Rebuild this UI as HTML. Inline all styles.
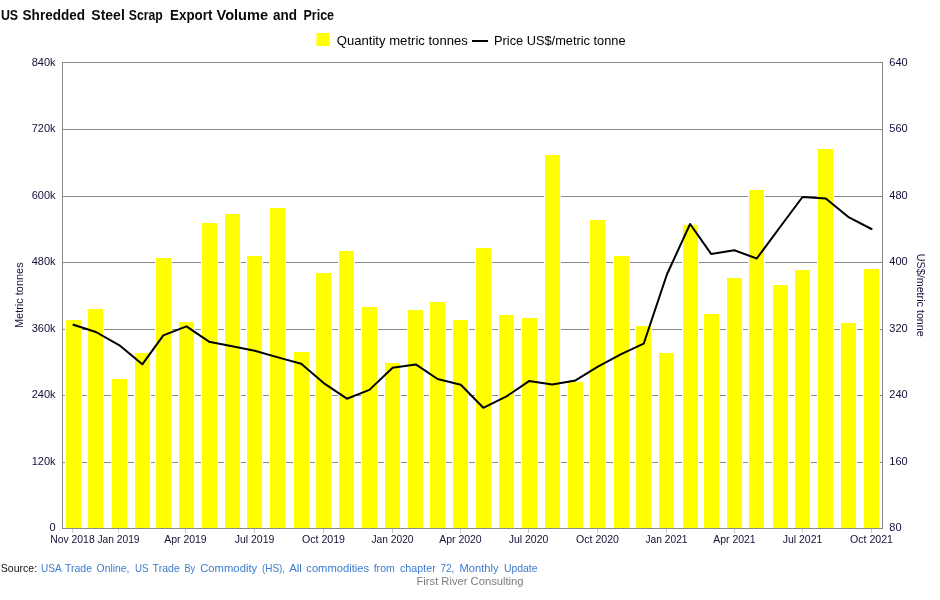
<!DOCTYPE html>
<html lang="en"><head><meta charset="utf-8"><title>US Shredded Steel Scrap Export Volume and Price</title>
<style>html,body{margin:0;padding:0;background:#fff;overflow:hidden}svg{display:block}text{font-family:"Liberation Sans",sans-serif}</style></head><body>
<svg width="940" height="600" viewBox="0 0 940 600">
<rect width="940" height="600" fill="#fff"/>
<g shape-rendering="crispEdges" fill="#8a8a8a">
<rect x="62" y="62" width="821" height="1"/>
<rect x="62" y="129" width="821" height="1"/>
<rect x="62" y="196" width="821" height="1"/>
<rect x="62" y="262" width="821" height="1"/>
<rect x="62" y="329" width="821" height="1"/>
<rect x="62" y="395" width="821" height="1"/>
<rect x="62" y="462" width="821" height="1"/>
</g>
<g shape-rendering="crispEdges" fill="#ffff00" stroke="#fff" stroke-width="1">
<rect x="65.5" y="319.5" width="16" height="209"/>
<rect x="87.5" y="308.5" width="16" height="220"/>
<rect x="111.5" y="378.5" width="16" height="150"/>
<rect x="134.5" y="352.5" width="16" height="176"/>
<rect x="155.5" y="257.5" width="16" height="271"/>
<rect x="178.5" y="321.5" width="16" height="207"/>
<rect x="201.5" y="222.5" width="16" height="306"/>
<rect x="224.5" y="213.5" width="16" height="315"/>
<rect x="246.5" y="255.5" width="16" height="273"/>
<rect x="269.5" y="207.5" width="16" height="321"/>
<rect x="293.5" y="351.5" width="16" height="177"/>
<rect x="315.5" y="272.5" width="16" height="256"/>
<rect x="338.5" y="250.5" width="16" height="278"/>
<rect x="361.5" y="306.5" width="16" height="222"/>
<rect x="384.5" y="362.5" width="16" height="166"/>
<rect x="407.5" y="309.5" width="16" height="219"/>
<rect x="429.5" y="301.5" width="16" height="227"/>
<rect x="452.5" y="319.5" width="16" height="209"/>
<rect x="475.5" y="247.5" width="16" height="281"/>
<rect x="498.5" y="314.5" width="16" height="214"/>
<rect x="521.5" y="317.5" width="16" height="211"/>
<rect x="544.5" y="154.5" width="16" height="374"/>
<rect x="567.5" y="381.5" width="16" height="147"/>
<rect x="589.5" y="219.5" width="16" height="309"/>
<rect x="613.5" y="255.5" width="16" height="273"/>
<rect x="635.5" y="325.5" width="16" height="203"/>
<rect x="658.5" y="352.5" width="16" height="176"/>
<rect x="682.5" y="224.5" width="16" height="304"/>
<rect x="703.5" y="313.5" width="16" height="215"/>
<rect x="726.5" y="277.5" width="16" height="251"/>
<rect x="748.5" y="189.5" width="16" height="339"/>
<rect x="772.5" y="284.5" width="16" height="244"/>
<rect x="794.5" y="269.5" width="16" height="259"/>
<rect x="817.5" y="148.5" width="16" height="380"/>
<rect x="840.5" y="322.5" width="16" height="206"/>
<rect x="863.5" y="268.5" width="16" height="260"/>
</g>
<g shape-rendering="crispEdges" fill="#8a8a8a">
<rect x="62" y="62" width="1" height="467"/>
<rect x="882" y="62" width="1" height="467"/>
<rect x="62" y="528" width="821" height="1"/>
</g>
<g fill="#c8c8c8" shape-rendering="crispEdges">
<rect x="72" y="529" width="1" height="4"/>
<rect x="118" y="529" width="1" height="4"/>
<rect x="185" y="529" width="1" height="4"/>
<rect x="254" y="529" width="1" height="4"/>
<rect x="323" y="529" width="1" height="4"/>
<rect x="392" y="529" width="1" height="4"/>
<rect x="460" y="529" width="1" height="4"/>
<rect x="528" y="529" width="1" height="4"/>
<rect x="597" y="529" width="1" height="4"/>
<rect x="666" y="529" width="1" height="4"/>
<rect x="734" y="529" width="1" height="4"/>
<rect x="802" y="529" width="1" height="4"/>
<rect x="871" y="529" width="1" height="4"/>
</g>
<polyline points="73.4,324.7 95.9,332.0 119.1,345.1 142.3,364.3 163.3,335.4 186.5,326.4 209.0,341.7 232.2,346.3 254.7,350.7 278.0,357.4 301.2,363.8 323.7,383.1 346.9,398.7 369.4,389.9 392.6,367.8 415.8,364.4 437.6,379.0 460.8,384.8 483.3,407.8 506.5,396.4 529.0,381.1 552.2,384.5 575.5,380.4 597.9,366.6 621.2,354.2 643.7,343.7 666.9,274.5 690.1,224.0 711.1,253.9 734.3,250.3 756.8,258.5 780.1,227.0 802.5,197.0 825.8,198.4 849.0,217.4 871.5,229.0" fill="none" stroke="#000" stroke-width="2" stroke-linejoin="round" stroke-linecap="round"/>
<text x="0.9" y="20" font-size="14.7" fill="#0a0a0a" font-weight="bold" textLength="17.2" lengthAdjust="spacingAndGlyphs">US</text>
<text x="22.6" y="20" font-size="14.7" fill="#0a0a0a" font-weight="bold" textLength="62.4" lengthAdjust="spacingAndGlyphs">Shredded</text>
<text x="91.3" y="20" font-size="14.7" fill="#0a0a0a" font-weight="bold" textLength="33.5" lengthAdjust="spacingAndGlyphs">Steel</text>
<text x="128.8" y="20" font-size="14.7" fill="#0a0a0a" font-weight="bold" textLength="34.0" lengthAdjust="spacingAndGlyphs">Scrap</text>
<text x="170.1" y="20" font-size="14.7" fill="#0a0a0a" font-weight="bold" textLength="42.3" lengthAdjust="spacingAndGlyphs">Export</text>
<text x="216.5" y="20" font-size="14.7" fill="#0a0a0a" font-weight="bold" textLength="51.6" lengthAdjust="spacingAndGlyphs">Volume</text>
<text x="273" y="20" font-size="14.7" fill="#0a0a0a" font-weight="bold" textLength="24.0" lengthAdjust="spacingAndGlyphs">and</text>
<text x="303.4" y="20" font-size="14.7" fill="#0a0a0a" font-weight="bold" textLength="30.7" lengthAdjust="spacingAndGlyphs">Price</text>
<rect x="316.5" y="33" width="13" height="13" fill="#ffff00"/>
<text x="336.8" y="44.5" font-size="13" fill="#000" textLength="131" lengthAdjust="spacingAndGlyphs">Quantity metric tonnes</text>
<rect x="472" y="40" width="16" height="2" fill="#000" shape-rendering="crispEdges"/>
<text x="494" y="44.5" font-size="13" fill="#000" textLength="131.6" lengthAdjust="spacingAndGlyphs">Price US$/metric tonne</text>
<text x="55.6" y="66" font-size="11" fill="#101038" text-anchor="end">840k</text>
<text x="55.6" y="132" font-size="11" fill="#101038" text-anchor="end">720k</text>
<text x="55.6" y="199" font-size="11" fill="#101038" text-anchor="end">600k</text>
<text x="55.6" y="265" font-size="11" fill="#101038" text-anchor="end">480k</text>
<text x="55.6" y="332" font-size="11" fill="#101038" text-anchor="end">360k</text>
<text x="55.6" y="398" font-size="11" fill="#101038" text-anchor="end">240k</text>
<text x="55.6" y="465" font-size="11" fill="#101038" text-anchor="end">120k</text>
<text x="55.6" y="531" font-size="11" fill="#101038" text-anchor="end">0</text>
<text x="889.3" y="66" font-size="11" fill="#101038">640</text>
<text x="889.3" y="132" font-size="11" fill="#101038">560</text>
<text x="889.3" y="199" font-size="11" fill="#101038">480</text>
<text x="889.3" y="265" font-size="11" fill="#101038">400</text>
<text x="889.3" y="332" font-size="11" fill="#101038">320</text>
<text x="889.3" y="398" font-size="11" fill="#101038">240</text>
<text x="889.3" y="465" font-size="11" fill="#101038">160</text>
<text x="889.3" y="531" font-size="11" fill="#101038">80</text>
<text x="50.2" y="542.5" font-size="11" fill="#101038" textLength="44.5" lengthAdjust="spacingAndGlyphs">Nov 2018</text>
<text x="97.5" y="542.5" font-size="11" fill="#101038" textLength="42" lengthAdjust="spacingAndGlyphs">Jan 2019</text>
<text x="164.2" y="542.5" font-size="11" fill="#101038" textLength="42.5" lengthAdjust="spacingAndGlyphs">Apr 2019</text>
<text x="234.7" y="542.5" font-size="11" fill="#101038" textLength="39.6" lengthAdjust="spacingAndGlyphs">Jul 2019</text>
<text x="302.0" y="542.5" font-size="11" fill="#101038" textLength="43" lengthAdjust="spacingAndGlyphs">Oct 2019</text>
<text x="371.5" y="542.5" font-size="11" fill="#101038" textLength="42" lengthAdjust="spacingAndGlyphs">Jan 2020</text>
<text x="439.2" y="542.5" font-size="11" fill="#101038" textLength="42.5" lengthAdjust="spacingAndGlyphs">Apr 2020</text>
<text x="508.7" y="542.5" font-size="11" fill="#101038" textLength="39.6" lengthAdjust="spacingAndGlyphs">Jul 2020</text>
<text x="576.0" y="542.5" font-size="11" fill="#101038" textLength="43" lengthAdjust="spacingAndGlyphs">Oct 2020</text>
<text x="645.5" y="542.5" font-size="11" fill="#101038" textLength="42" lengthAdjust="spacingAndGlyphs">Jan 2021</text>
<text x="713.2" y="542.5" font-size="11" fill="#101038" textLength="42.5" lengthAdjust="spacingAndGlyphs">Apr 2021</text>
<text x="782.7" y="542.5" font-size="11" fill="#101038" textLength="39.6" lengthAdjust="spacingAndGlyphs">Jul 2021</text>
<text x="850.0" y="542.5" font-size="11" fill="#101038" textLength="43" lengthAdjust="spacingAndGlyphs">Oct 2021</text>
<text transform="translate(23.3,328) rotate(-90)" font-size="11" fill="#101038" textLength="65.6" lengthAdjust="spacingAndGlyphs">Metric tonnes</text>
<text transform="translate(916.8,253.8) rotate(90)" font-size="11" fill="#101038" textLength="83" lengthAdjust="spacingAndGlyphs">US$/metric tonne</text>
<text x="0.7" y="571.5" font-size="11" fill="#111" textLength="36.5" lengthAdjust="spacingAndGlyphs">Source:</text>
<text x="41" y="571.5" font-size="11.5" fill="#3b7bd0" textLength="20.7" lengthAdjust="spacingAndGlyphs">USA</text>
<text x="65.1" y="571.5" font-size="11.5" fill="#3b7bd0" textLength="26.9" lengthAdjust="spacingAndGlyphs">Trade</text>
<text x="96.6" y="571.5" font-size="11.5" fill="#3b7bd0" textLength="32.8" lengthAdjust="spacingAndGlyphs">Online,</text>
<text x="135" y="571.5" font-size="11.5" fill="#3b7bd0" textLength="13.6" lengthAdjust="spacingAndGlyphs">US</text>
<text x="152.6" y="571.5" font-size="11.5" fill="#3b7bd0" textLength="27.3" lengthAdjust="spacingAndGlyphs">Trade</text>
<text x="184.4" y="571.5" font-size="11.5" fill="#3b7bd0" textLength="10.8" lengthAdjust="spacingAndGlyphs">By</text>
<text x="200.2" y="571.5" font-size="11.5" fill="#3b7bd0" textLength="57.0" lengthAdjust="spacingAndGlyphs">Commodity</text>
<text x="261.9" y="571.5" font-size="11.5" fill="#3b7bd0" textLength="23.2" lengthAdjust="spacingAndGlyphs">(HS),</text>
<text x="289.2" y="571.5" font-size="11.5" fill="#3b7bd0" textLength="12.7" lengthAdjust="spacingAndGlyphs">All</text>
<text x="306.3" y="571.5" font-size="11.5" fill="#3b7bd0" textLength="62.8" lengthAdjust="spacingAndGlyphs">commodities</text>
<text x="373.7" y="571.5" font-size="11.5" fill="#3b7bd0" textLength="21.1" lengthAdjust="spacingAndGlyphs">from</text>
<text x="400" y="571.5" font-size="11.5" fill="#3b7bd0" textLength="35.8" lengthAdjust="spacingAndGlyphs">chapter</text>
<text x="440.5" y="571.5" font-size="11.5" fill="#3b7bd0" textLength="13.9" lengthAdjust="spacingAndGlyphs">72,</text>
<text x="459.5" y="571.5" font-size="11.5" fill="#3b7bd0" textLength="39.0" lengthAdjust="spacingAndGlyphs">Monthly</text>
<text x="503.9" y="571.5" font-size="11.5" fill="#3b7bd0" textLength="33.6" lengthAdjust="spacingAndGlyphs">Update</text>
<text x="416.5" y="584.6" font-size="11" fill="#7c7c80" textLength="107" lengthAdjust="spacingAndGlyphs">First River Consulting</text>
</svg></body></html>
